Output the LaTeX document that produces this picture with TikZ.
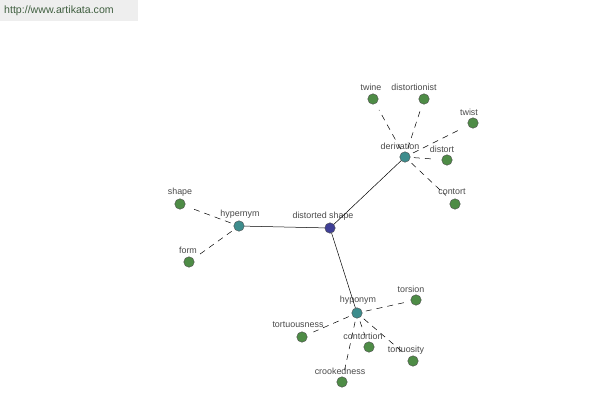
\documentclass[tikz,border=0pt]{standalone}
\usepackage{fontspec}
\setmainfont{Liberation Sans}
\definecolor{leafc}{HTML}{4E8C46}
\definecolor{midc}{HTML}{3D8C8C}
\definecolor{rootc}{HTML}{3F3F96}
\definecolor{txtc}{HTML}{4A4A4A}
\definecolor{hdrbg}{HTML}{EEEEEE}
\definecolor{hdrtxt}{HTML}{405F40}
\begin{document}
\begin{tikzpicture}[x=1pt,y=-1pt,
  dot/.style={circle,draw=black!70,line width=0.4pt,minimum size=10.5pt,inner sep=0pt},
  leaf/.style={dot,fill=leafc},
  mid/.style={dot,fill=midc},
  root/.style={dot,fill=rootc},
  lbl/.style={font=\fontsize{8.9}{9}\selectfont,text=txtc,inner sep=0pt},
  solidlink/.style={draw=black,line width=0.5pt},
  dashlink/.style={draw=black,line width=0.5pt,dash pattern=on 6pt off 5pt,shorten <=9pt,shorten >=7pt}]
\useasboundingbox (0,0) rectangle (600,400);
\fill[white] (0,0) rectangle (600,400);
\fill[hdrbg] (0,0) rectangle (138,21);
\node[font=\fontsize{10.6}{11}\selectfont,text=hdrtxt,anchor=west,inner sep=0pt] (url) at (4,11) {http://www.artikata.com};

% nodes
\node[root] (ds) at (330,228) {};
\node[mid] (hyper) at (239,226) {};
\node[mid] (deriv) at (405,157) {};
\node[mid] (hypo) at (357,313) {};
\node[leaf] (shape) at (180,204) {};
\node[leaf] (form) at (189,262) {};
\node[leaf] (twine) at (373,99) {};
\node[leaf] (distortionist) at (424,99) {};
\node[leaf] (twist) at (473,123) {};
\node[leaf] (distort) at (447,160) {};
\node[leaf] (contort) at (455,204) {};
\node[leaf] (torsion) at (416,300) {};
\node[leaf] (tortuousness) at (302,337) {};
\node[leaf] (contortion) at (369,347) {};
\node[leaf] (tortuosity) at (413,361) {};
\node[leaf] (crookedness) at (342,382) {};

% labels
\node[lbl] (l-ds) at (323,216) {distorted shape};
\node[lbl] (l-hyper) at (240,214) {hypernym};
\node[lbl] (l-deriv) at (400,146) {derivation};
\node[lbl] (l-hypo) at (358,300) {hyponym};
\node[lbl] (l-shape) at (180,192) {shape};
\node[lbl] (l-form) at (188,250) {form};
\node[lbl] (l-twine) at (371,87) {twine};
\node[lbl] (l-distortionist) at (414,87) {distortionist};
\node[lbl] (l-twist) at (469,112) {twist};
\node[lbl] (l-distort) at (442,149) {distort};
\node[lbl] (l-contort) at (452,192) {contort};
\node[lbl] (l-torsion) at (411,289) {torsion};
\node[lbl] (l-tortuousness) at (298,325) {tortuousness};
\node[lbl] (l-contortion) at (363,336) {contortion};
\node[lbl] (l-tortuosity) at (406,350) {tortuosity};
\node[lbl] (l-crookedness) at (340,371) {crookedness};

% solid links
\draw[solidlink] (ds) -- (hyper);
\draw[solidlink] (ds) -- (deriv);
\draw[solidlink] (ds) -- (hypo);

% dashed links
\foreach \t in {shape,form} \draw[dashlink] (hyper.center) -- (\t);
\foreach \t in {twine,distortionist,twist,distort,contort} \draw[dashlink] (deriv.center) -- (\t);
\foreach \t in {torsion,tortuousness,contortion,tortuosity,crookedness} \draw[dashlink] (hypo.center) -- (\t);
\end{tikzpicture}
\end{document}
